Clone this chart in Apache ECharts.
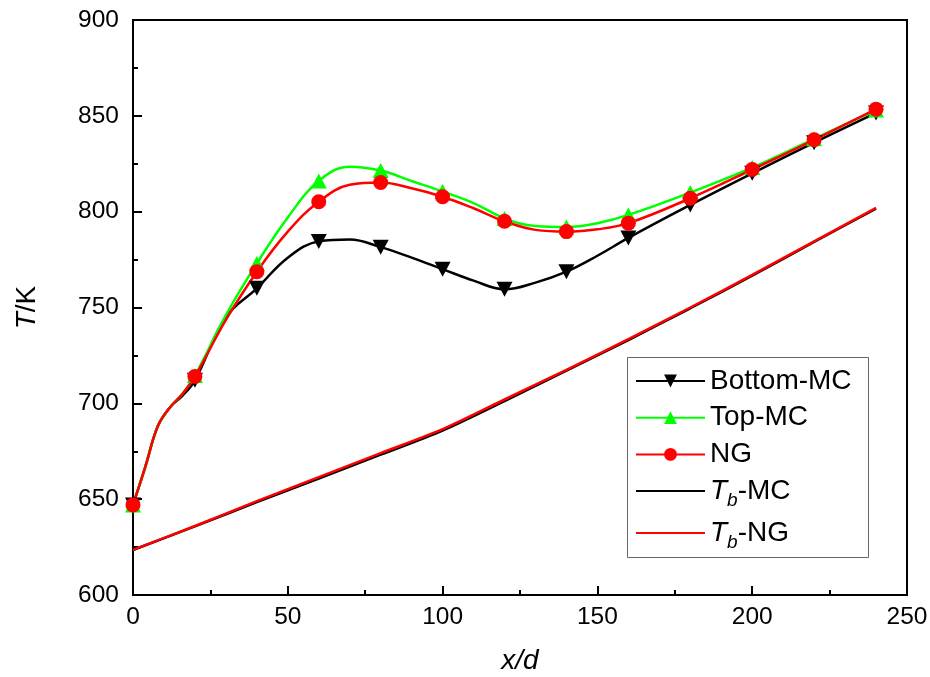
<!DOCTYPE html>
<html>
<head>
<meta charset="utf-8">
<script src="https://cdn.jsdelivr.net/npm/echarts@6/dist/echarts.min.js"></script>
<style>
  html, body { margin: 0; padding: 0; background: #fff; }
  #chart { width: 930px; height: 677px; }
</style>
</head>
<body>
<div id="chart"></div>
<script>
// x/d positions of the curves (markers every 20)
const xs = [0, 4, 8, 12, 16, 20, 30, 40, 50, 60, 70, 80, 90, 100, 110, 120, 130, 140, 150, 160, 180, 200, 220, 240];
const bottomMC = [647, 667, 688, 698, 704, 712, 745, 760, 776, 784.5, 785.5, 781.5, 776, 770, 764, 759.5, 763, 768.7, 777, 786.3, 803.5, 820, 836, 851.5];
const topMC = [647, 667, 688, 698, 705, 714.5, 746, 773, 797, 816, 823.5, 821.5, 816, 810.5, 804.5, 796.5, 792.5, 792, 794, 798.3, 810, 823, 838, 853];
const ngVals = [647, 667, 688, 698, 705, 714, 743.5, 768.7, 789.6, 805.2, 814, 815.2, 812.2, 807.8, 801.8, 795, 790.5, 789.6, 790.8, 794, 807, 822, 837.5, 853.5];

// bulk temperature lines
const xsTb = [0, 20, 40, 60, 80, 100, 120, 140, 160, 180, 200, 220, 240];
const tbMC = [623.5, 635.8, 648.5, 660.8, 673.2, 685.8, 701.2, 717, 733, 749.6, 766.6, 784.2, 801.6];
const tbNG = [623.5, 636, 649, 661.5, 674, 686.5, 702, 717.5, 733.5, 750, 767, 784.5, 802];

const xTicks = [0, 50, 100, 150, 200, 250];
const yTicks = [600, 650, 700, 750, 800, 850, 900];

const downTri = 'path://M0,0 L10,0 L5,9 Z';
const upTri = 'path://M5,0 L10,9 L0,9 Z';

function markedData(x, y) {
  return x.map(function (v, i) {
    if (v % 20 === 0) return [v, y[i]];
    return { value: [v, y[i]], symbol: 'none' };
  });
}
function pairs(x, y) {
  return x.map(function (v, i) { return [v, y[i]]; });
}

const chart = echarts.init(document.getElementById('chart'));
const font = 'Liberation Sans, Arial, sans-serif';

const legendText = {
  fontFamily: font,
  fontSize: 28,
  color: '#000',
  lineHeight: 30,
  rich: {
    i: { fontFamily: font, fontSize: 28, fontStyle: 'italic', lineHeight: 30 },
    sub: { fontFamily: font, fontSize: 19, fontStyle: 'italic', verticalAlign: 'bottom', lineHeight: 18, padding: [0, 0, -4, 0] },
    n: { fontFamily: font, fontSize: 28, lineHeight: 30 }
  }
};
function legendFmt(name) {
  if (name === 'Tb-MC') return '{i|T}{sub|b}{n|-MC}';
  if (name === 'Tb-NG') return '{i|T}{sub|b}{n|-NG}';
  return name;
}

const option = {
  animation: false,
  backgroundColor: '#fff',
  grid: {
    left: 133, right: 23, top: 20, bottom: 82,
    outerBoundsMode: 'none',
    show: true, borderColor: '#000', borderWidth: 2
  },
  xAxis: {
    type: 'value',
    min: 0, max: 250, interval: 50,
    name: '{i|x/d}',
    nameLocation: 'middle',
    nameGap: 52,
    nameTextStyle: { rich: { i: { fontFamily: font, fontSize: 28, fontStyle: 'italic', color: '#000' } } },
    axisLine: { lineStyle: { color: '#000', width: 2 } },
    axisTick: { inside: true, length: 9, lineStyle: { color: '#000', width: 2 } },
    minorTick: { show: true, splitNumber: 2, length: 5, lineStyle: { color: '#000', width: 2 } },
    splitLine: { show: false },
    axisLabel: { color: '#000', fontFamily: font, fontSize: 24.5, margin: 10,
      formatter: function (v) { return xTicks.indexOf(v) >= 0 ? String(v) : ''; } }
  },
  yAxis: {
    type: 'value',
    min: 600, max: 900, interval: 50,
    name: '{i|T}{n|/K}',
    nameLocation: 'middle',
    nameGap: 92,
    nameRotate: 90,
    nameTextStyle: { rich: {
      i: { fontFamily: font, fontSize: 28, fontStyle: 'italic', color: '#000' },
      n: { fontFamily: font, fontSize: 28, color: '#000' }
    } },
    axisLine: { lineStyle: { color: '#000', width: 2 } },
    axisTick: { inside: true, length: 9, lineStyle: { color: '#000', width: 2 } },
    minorTick: { show: true, splitNumber: 2, length: 5, lineStyle: { color: '#000', width: 2 } },
    splitLine: { show: false },
    axisLabel: { color: '#000', fontFamily: font, fontSize: 24.5, margin: 14,
      formatter: function (v) { return yTicks.indexOf(v) >= 0 ? String(v) : ''; } }
  },
  legend: [
    {
      data: ['Bottom-MC', 'Top-MC', 'NG', { name: 'Tb-MC', itemStyle: { opacity: 0 } }],
      orient: 'vertical',
      left: 630, top: 361,
      itemWidth: 69, itemHeight: 16, itemGap: 6.7,
      formatter: legendFmt,
      textStyle: legendText,
      selectedMode: false
    },
    {
      data: [{ name: 'Tb-NG', itemStyle: { opacity: 0 } }],
      orient: 'vertical',
      left: 630, top: 513,
      itemWidth: 69, itemHeight: 16,
      formatter: legendFmt,
      textStyle: legendText,
      selectedMode: false
    }
  ],
  graphic: [
    { type: 'rect', left: 625, top: 355, shape: { width: 241, height: 200 },
      style: { fill: 'none', stroke: '#666', lineWidth: 1 }, z: 100 }
  ],
  series: [
    {
      name: 'Tb-MC', type: 'line', data: pairs(xsTb, tbMC),
      symbol: 'none', smooth: 0.3,
      lineStyle: { color: '#000', width: 2.5 }, itemStyle: { color: '#000' }
    },
    {
      name: 'Tb-NG', type: 'line', data: pairs(xsTb, tbNG),
      symbol: 'none', smooth: 0.3,
      lineStyle: { color: '#ff0000', width: 2.5 }, itemStyle: { color: '#ff0000' }
    },
    {
      name: 'Bottom-MC', type: 'line', data: markedData(xs, bottomMC),
      symbol: downTri, symbolSize: [16, 15], smooth: 0.4,
      lineStyle: { color: '#000', width: 2.5 }, itemStyle: { color: '#000' }
    },
    {
      name: 'Top-MC', type: 'line', data: markedData(xs, topMC),
      symbol: upTri, symbolSize: [16, 15], smooth: 0.4,
      lineStyle: { color: '#00ff00', width: 2.5 }, itemStyle: { color: '#00ff00' }
    },
    {
      name: 'NG', type: 'line', data: markedData(xs, ngVals),
      symbol: 'circle', symbolSize: 15, smooth: 0.4,
      lineStyle: { color: '#ff0000', width: 2.5 }, itemStyle: { color: '#ff0000' }
    }
  ]
};

chart.setOption(option);
</script>
</body>
</html>
